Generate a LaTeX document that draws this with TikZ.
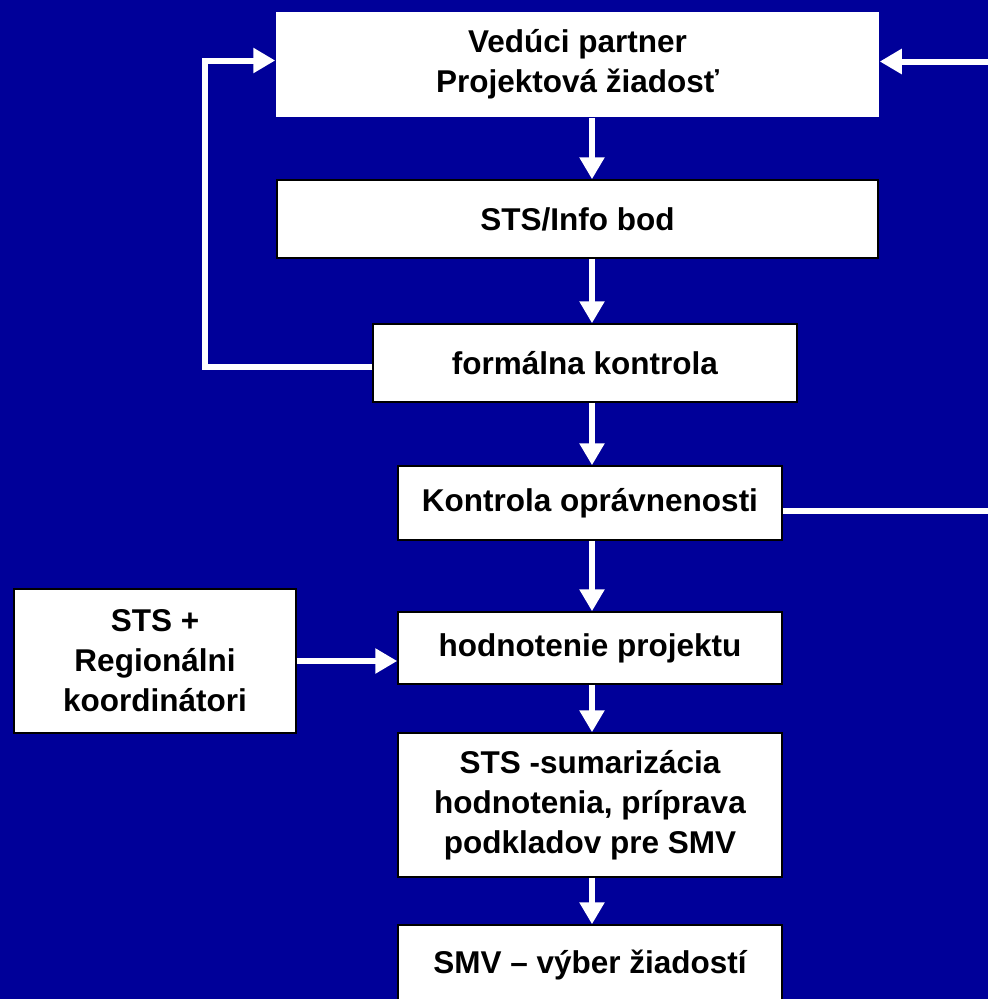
\documentclass[tikz,border=0pt]{standalone}
\usepackage{fontspec}
\setmainfont{Liberation Sans}
\usetikzlibrary{arrows.meta,calc}
\definecolor{bgblue}{RGB}{0,0,153}
\begin{document}
\begin{tikzpicture}[x=1pt,y=-1pt,
  box/.style={draw=black, line width=1.5pt, fill=white, text=black, inner sep=0pt,
    align=center, font=\fontsize{31.5}{40}\selectfont\bfseries},
  arr/.style={draw=white, line width=6pt,
    -{Triangle[width=24pt,length=22pt]}}]
\useasboundingbox (0,0) rectangle (988,999);
\clip (0,0) rectangle (988,999);
\fill[bgblue] (-5,-5) rectangle (993,1004);
\coordinate (ax) at (592,0);
\coordinate (lc) at (205,0);
\coordinate (rc) at (1010,0);
\node[box, draw=none, minimum width=603pt, minimum height=105pt] (lp) at (577.5,64.5) {Vedúci partner\\Projektová žiadosť};
\node[box, minimum width=601pt, minimum height=78pt] (sts) at (577.5,219) {STS/Info bod};
\node[box, minimum width=424pt, minimum height=78pt] (fk) at (585,363) {formálna kontrola};
\node[box, minimum width=384pt, minimum height=74pt] (ko) at (590,503) {Kontrola oprávnenosti};
\node[box, minimum width=384pt, minimum height=72pt] (hp) at (590,648) {hodnotenie projektu};
\node[box, minimum width=282pt, minimum height=144pt] (reg) at (155,661) {STS +\\Regionálni\\koordinátori};
\node[box, minimum width=384pt, minimum height=144pt] (sum) at (590,805) {STS -sumarizácia\\hodnotenia, príprava\\podkladov pre SMV};
\node[box, minimum width=384pt, minimum height=80pt] (smv) at (590,965) {SMV -- výber žiadostí};
\draw[arr] (lp.south -| ax) -- (sts.north -| ax);
\draw[arr] (sts.south -| ax) -- (fk.north -| ax);
\draw[arr] (fk.south -| ax) -- (ko.north -| ax);
\draw[arr] (ko.south -| ax) -- (hp.north -| ax);
\draw[arr] (hp.south -| ax) -- (sum.north -| ax);
\draw[arr] (sum.south -| ax) -- (smv.north -| ax);
\draw[arr] (reg.east) -- (reg.east -| hp.west);
\coordinate (fkw) at ($(fk.west)+(0,4)$);
\coordinate (lpw) at ($(lp.west)+(0,-4)$);
\coordinate (koe) at ($(ko.east)+(0,8)$);
\coordinate (lpe) at ($(lp.east)+(0,-3)$);
\draw[arr] (fkw) -- (fkw -| lc) |- (lpw);
\draw[arr] (koe) -- (koe -| rc) |- (lpe);
\end{tikzpicture}
\end{document}
